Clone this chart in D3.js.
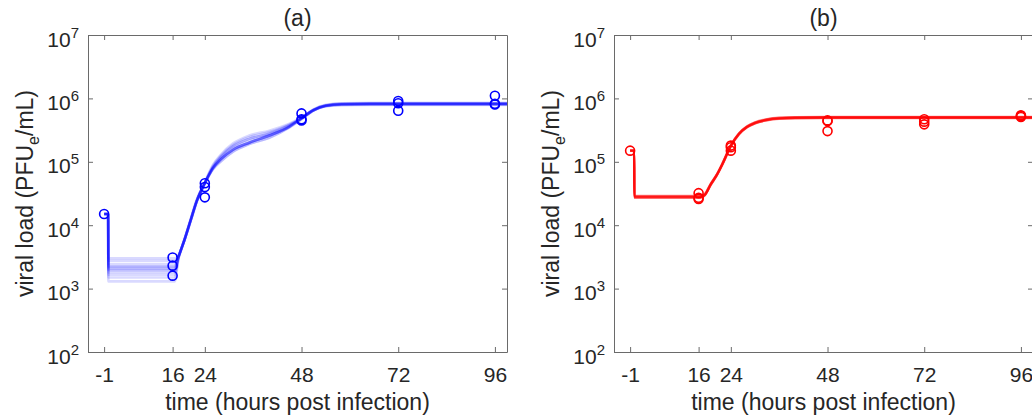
<!DOCTYPE html>
<html>
<head>
<meta charset="utf-8">
<script src="https://cdn.jsdelivr.net/npm/d3@7"></script>
<style>
body { margin: 0; background: #fff; }
text { font-family: "Liberation Sans", Arial, Helvetica, sans-serif; fill: #262626; }
</style>
</head>
<body>
<svg id="chart" width="1032" height="419"></svg>
<script>
var xTicks = [-1, 16, 24, 48, 72, 96];
var yTicks = [1e2, 1e3, 1e4, 1e5, 1e6, 1e7];
var yExps = ["2", "3", "4", "5", "6", "7"];

// panel (a) observations
var obsTimesA = [-1, 16, 16, 16, 24, 24, 24, 48, 48, 48, 72, 72, 72, 96, 96, 96];
var obsValuesA = [1.5e4, 3.1e3, 2.3e3, 1.6e3, 4.6e4, 4.0e4, 2.75e4, 5.8e5, 4.7e5, 4.5e5, 9.1e5, 8.4e5, 6.4e5, 1.1e6, 8.0e5, 8.2e5];

// panel (a) model fits (ensemble)
var fitTimesA = [-1, 0, 0.05, 16.5, 17.5, 19, 20.5, 22, 24, 26, 28, 31, 35, 40, 45, 48, 51, 54, 58, 65, 99];
var fitsA = [
  [1.5e4, 1.5e4, 1.3e3, 1.3e3, 3.0e3, 5.9e3, 1.2e4, 2.4e4, 4.6e4, 7.6e4, 1.02e5, 1.45e5, 1.9e5, 2.4e5, 3.5e5, 4.7e5, 6.4e5, 7.5e5, 7.8e5, 7.9e5, 7.9e5],
  [1.5e4, 1.5e4, 1.5e3, 1.5e3, 3.1e3, 6.0e3, 1.2e4, 2.4e4, 4.6e4, 7.9e4, 1.1e5, 1.55e5, 2.0e5, 2.6e5, 3.6e5, 4.85e5, 6.5e5, 7.5e5, 7.9e5, 8.0e5, 8.0e5],
  [1.5e4, 1.5e4, 1.65e3, 1.65e3, 3.1e3, 6.1e3, 1.25e4, 2.5e4, 4.7e4, 8.3e4, 1.2e5, 1.75e5, 2.3e5, 2.8e5, 3.8e5, 4.9e5, 6.6e5, 7.7e5, 8.1e5, 8.2e5, 8.2e5],
  [1.5e4, 1.5e4, 1.8e3, 1.8e3, 3.2e3, 6.0e3, 1.2e4, 2.4e4, 4.6e4, 7.9e4, 1.1e5, 1.55e5, 2.0e5, 2.6e5, 3.6e5, 4.85e5, 6.5e5, 7.6e5, 8.0e5, 8.1e5, 8.1e5],
  [1.5e4, 1.5e4, 1.95e3, 1.95e3, 3.2e3, 6.0e3, 1.2e4, 2.4e4, 4.6e4, 7.9e4, 1.1e5, 1.55e5, 2.0e5, 2.6e5, 3.6e5, 4.85e5, 6.5e5, 7.7e5, 8.1e5, 8.2e5, 8.2e5],
  [1.5e4, 1.5e4, 2.1e3, 2.1e3, 3.2e3, 5.9e3, 1.15e4, 2.3e4, 4.5e4, 7.6e4, 1.02e5, 1.45e5, 1.9e5, 2.4e5, 3.5e5, 4.7e5, 6.5e5, 7.7e5, 8.2e5, 8.3e5, 8.3e5],
  [1.5e4, 1.5e4, 2.25e3, 2.25e3, 3.3e3, 6.2e3, 1.25e4, 2.5e4, 4.8e4, 8.9e4, 1.3e5, 1.95e5, 2.6e5, 3.1e5, 4.0e5, 5.0e5, 6.7e5, 7.8e5, 8.3e5, 8.4e5, 8.4e5],
  [1.5e4, 1.5e4, 2.45e3, 2.45e3, 3.3e3, 6.0e3, 1.2e4, 2.4e4, 4.6e4, 7.9e4, 1.1e5, 1.55e5, 2.0e5, 2.6e5, 3.6e5, 4.85e5, 6.5e5, 7.6e5, 8.1e5, 8.2e5, 8.2e5],
  [1.5e4, 1.5e4, 2.75e3, 2.75e3, 3.3e3, 6.1e3, 1.25e4, 2.5e4, 4.7e4, 8.3e4, 1.2e5, 1.75e5, 2.3e5, 2.8e5, 3.8e5, 4.9e5, 6.7e5, 7.9e5, 8.4e5, 8.5e5, 8.5e5],
  [1.5e4, 1.5e4, 3.0e3, 3.0e3, 3.3e3, 6.0e3, 1.2e4, 2.4e4, 4.6e4, 7.9e4, 1.1e5, 1.55e5, 2.0e5, 2.6e5, 3.6e5, 4.85e5, 6.5e5, 7.6e5, 8.0e5, 8.1e5, 8.1e5],
  [1.5e4, 1.5e4, 2.0e3, 2.0e3, 3.2e3, 6.0e3, 1.2e4, 2.4e4, 4.6e4, 8.1e4, 1.15e5, 1.65e5, 2.15e5, 2.7e5, 3.7e5, 4.9e5, 6.6e5, 7.7e5, 8.1e5, 8.2e5, 8.2e5],
  [1.5e4, 1.5e4, 2.2e3, 2.2e3, 3.2e3, 6.0e3, 1.2e4, 2.4e4, 4.6e4, 8.6e4, 1.25e5, 1.85e5, 2.45e5, 2.95e5, 3.9e5, 4.95e5, 6.6e5, 7.7e5, 8.2e5, 8.3e5, 8.3e5]
];

// panel (b) observations
var obsTimesB = [-1, 16, 16, 16, 24, 24, 24, 48, 48, 48, 72, 72, 72, 96, 96, 96];
var obsValuesB = [1.5e5, 3.2e4, 2.7e4, 2.6e4, 1.8e5, 1.7e5, 1.5e5, 4.4e5, 4.5e5, 3.05e5, 4.7e5, 4.3e5, 3.9e5, 5.4e5, 5.1e5, 5.3e5];

// panel (b) model fits (ensemble)
var fitTimesB = [-1, 0, 0.05, 16.5, 17.5, 19, 20.5, 22, 24, 26, 28, 30, 33, 36, 40, 50, 99];
var fitsB = [
  [1.5e5, 1.5e5, 2.8e4, 2.8e4, 3.0e4, 4.4e4, 6.2e4, 9.5e4, 1.8e5, 2.75e5, 3.55e5, 4.1e5, 4.6e5, 4.85e5, 4.95e5, 5.0e5, 5.0e5],
  [1.5e5, 1.5e5, 2.7e4, 2.7e4, 2.95e4, 4.3e4, 6.1e4, 9.3e4, 1.75e5, 2.7e5, 3.5e5, 4.05e5, 4.5e5, 4.75e5, 4.85e5, 4.9e5, 4.9e5],
  [1.5e5, 1.5e5, 2.9e4, 2.9e4, 3.1e4, 4.5e4, 6.3e4, 9.7e4, 1.82e5, 2.8e5, 3.6e5, 4.15e5, 4.65e5, 4.9e5, 5.0e5, 5.05e5, 5.05e5],
  [1.5e5, 1.5e5, 2.85e4, 2.85e4, 3.0e4, 4.4e4, 6.2e4, 9.5e4, 1.8e5, 2.8e5, 3.6e5, 4.2e5, 4.7e5, 4.95e5, 5.05e5, 5.1e5, 5.1e5],
  [1.5e5, 1.5e5, 2.75e4, 2.75e4, 2.95e4, 4.35e4, 6.1e4, 9.4e4, 1.78e5, 2.72e5, 3.5e5, 4.05e5, 4.55e5, 4.8e5, 4.9e5, 4.95e5, 4.95e5]
];

var svg = d3.select("#chart");
var axisColor = "#6a6a6a";

function drawPanel(p) {
  var left = p.left, top = 35, width = 419, height = 317;
  var x = d3.scaleLinear().domain([-5, 99]).range([left, left + width]);
  var y = d3.scaleLog().domain([1e2, 1e7]).range([top + height, top]);
  var g = svg.append("g");

  // box with inward ticks on all sides
  var bottom = g.append("g").attr("transform", "translate(0," + (top + height) + ")")
    .call(d3.axisBottom(x).tickValues(xTicks).tickSizeInner(-5).tickSizeOuter(0).tickPadding(15).tickFormat(d3.format("d")));
  g.append("g").attr("transform", "translate(0," + top + ")")
    .call(d3.axisTop(x).tickValues(xTicks).tickSizeInner(-5).tickSizeOuter(0).tickFormat(""));
  var leftAx = g.append("g").attr("transform", "translate(" + left + ",0)")
    .call(d3.axisLeft(y).tickValues(yTicks).tickSizeInner(-5).tickSizeOuter(0).tickPadding(9));
  g.append("g").attr("transform", "translate(" + (left + width) + ",0)")
    .call(d3.axisRight(y).tickValues(yTicks).tickSizeInner(-5).tickSizeOuter(0).tickFormat(""));

  g.selectAll(".domain, .tick line").attr("stroke", axisColor);
  g.selectAll(".tick text").attr("fill", "#262626").style("font-size", "21px")
    .style("font-family", "'Liberation Sans', Arial, sans-serif");

  bottom.selectAll(".tick text").text(function(d) { return d < 0 ? "-" + Math.abs(d) : d; });

  leftAx.selectAll(".tick text").each(function(d, i) {
    var t = d3.select(this);
    t.text("10").attr("dy", null).attr("y", 11);
    t.append("tspan").attr("dy", -9).style("font-size", "15px").text(yExps[i]);
  });

  // model fits
  var line = d3.line()
    .x(function(d) { return x(d[0]); })
    .y(function(d) { return y(d[1]); })
    .curve(d3.curveMonotoneX);
  p.fits.forEach(function(f) {
    g.append("path")
      .datum(p.times.map(function(t, i) { return [t, f[i]]; }))
      .attr("fill", "none")
      .attr("stroke", p.color)
      .attr("stroke-opacity", p.alpha)
      .attr("stroke-width", p.lineWidth)
      .attr("d", line);
  });

  // observations
  g.selectAll("circle.obs")
    .data(p.obsT.map(function(t, i) { return [t, p.obsV[i]]; }))
    .enter().append("circle")
    .attr("class", "obs")
    .attr("cx", function(d) { return x(d[0]); })
    .attr("cy", function(d) { return y(d[1]); })
    .attr("r", 4.5)
    .attr("fill", "none")
    .attr("stroke", p.color)
    .attr("stroke-width", 1.6);

  // labels
  g.append("text")
    .attr("x", left + width / 2).attr("y", 26)
    .attr("text-anchor", "middle").style("font-size", "23px")
    .text(p.title);
  g.append("text")
    .attr("x", left + width / 2).attr("y", 410)
    .attr("text-anchor", "middle").style("font-size", "23px")
    .text("time (hours post infection)");
  var yl = g.append("text")
    .attr("transform", "translate(" + (left - 55) + "," + (top + height / 2) + ") rotate(-90)")
    .attr("text-anchor", "middle").style("font-size", "23px");
  yl.append("tspan").text("viral load (PFU");
  yl.append("tspan").attr("dy", 6).style("font-size", "16px").text("e");
  yl.append("tspan").attr("dy", -6).text("/mL)");
}

drawPanel({ left: 88, title: "(a)", color: "#0000ff", alpha: 0.15, lineWidth: 2.6, times: fitTimesA, fits: fitsA, obsT: obsTimesA, obsV: obsValuesA });
drawPanel({ left: 614, title: "(b)", color: "#ff0000", alpha: 0.45, lineWidth: 2.4, times: fitTimesB, fits: fitsB, obsT: obsTimesB, obsV: obsValuesB });
</script>
</body>
</html>
